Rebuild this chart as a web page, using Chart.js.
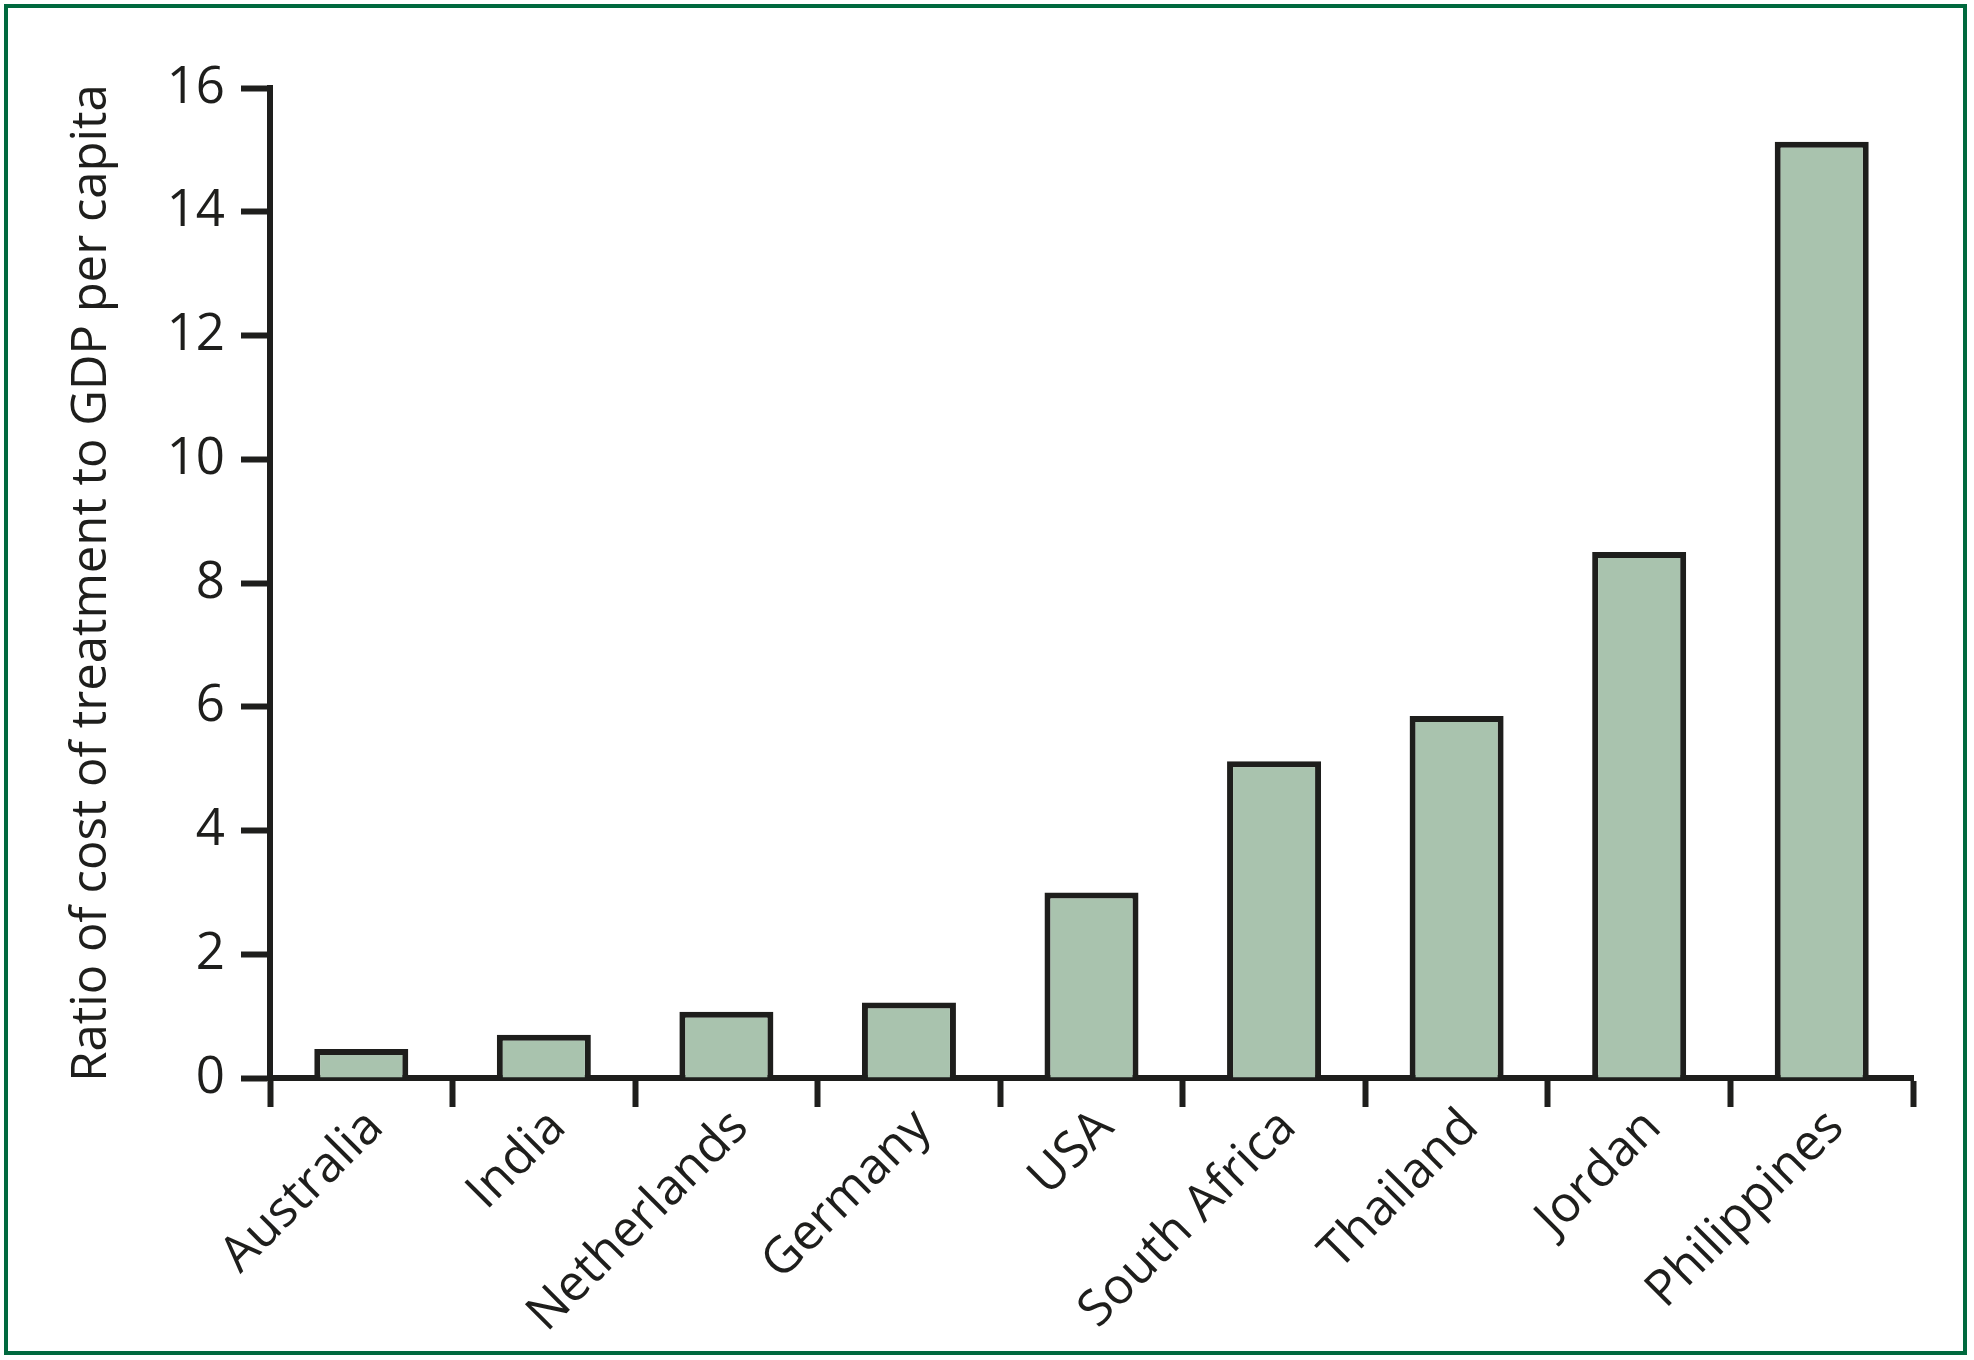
<!DOCTYPE html>
<html>
<head>
<meta charset="utf-8">
<title>Cost of treatment to GDP per capita</title>
<script src="https://cdn.jsdelivr.net/npm/chart.js"></script>
<style>
  html, body { margin: 0; padding: 0; background: #fff; }
  #frame {
    position: absolute; left: 4px; top: 4px;
    width: 1955px; height: 1343px;
    border: 4px solid #00693e;
  }
  #wrap { position: absolute; left: 0; top: 0; width: 1974px; height: 1360px; }
</style>
</head>
<body>
<div id="frame"></div>
<div id="wrap"><canvas id="bar-chart" width="1974" height="1360"></canvas></div>
<script>
// values
const countries = ['Australia', 'India', 'Netherlands', 'Germany', 'USA', 'South Africa', 'Thailand', 'Jordan', 'Philippines'];
const ratios = [0.47, 0.70, 1.07, 1.22, 3.0, 5.12, 5.85, 8.5, 15.13];
const yTicks = [0, 2, 4, 6, 8, 10, 12, 14, 16];
const yTitle = 'Ratio of cost of treatment to GDP per capita';

const ink = '#1e1e1c';
const font = "'Open Sans', 'Noto Sans', sans-serif";

Chart.defaults.animation = false;

const ctx = document.getElementById('bar-chart').getContext('2d');
new Chart(ctx, {
  type: 'bar',
  data: {
    labels: countries,
    datasets: [
      {
        data: ratios,
        backgroundColor: '#a9c3ae',
        borderColor: ink,
        borderWidth: 6,
        borderSkipped: 'start',
        categoryPercentage: 1,
        barPercentage: 0.515,
      },
    ],
  },
  options: {
    responsive: false,
    maintainAspectRatio: false,
    layout: { padding: { top: 88, right: 61, bottom: 0, left: 0 } },
    plugins: { legend: { display: false }, tooltip: { enabled: false } },
    scales: {
      x: {
        offset: true,
        grid: {
          offset: true,
          drawOnChartArea: false,
          drawTicks: true,
          tickLength: 29,
          tickWidth: 6,
          tickColor: ink,
          color: ink,
        },
        border: { display: true, width: 6, color: ink },
        ticks: {
          minRotation: 45,
          maxRotation: 45,
          autoSkip: false,
          padding: -9,
          labelOffset: 14,
          color: ink,
          font: { family: font, size: 50 },
        },
        afterFit: (scale) => { scale.height = 282; },
      },
      y: {
        min: 0,
        max: 16,
        afterBuildTicks: (scale) => { scale.ticks = yTicks.map(v => ({ value: v })); },
        grid: {
          drawOnChartArea: false,
          drawTicks: true,
          tickLength: 29,
          tickWidth: 6,
          tickColor: ink,
          color: ink,
        },
        border: { display: true, width: 6, color: ink },
        ticks: {
          padding: 16,
          color: ink,
          font: { family: font, size: 51 },
        },
        title: {
          display: true,
          text: yTitle,
          color: ink,
          padding: { top: 63, bottom: 0 },
          font: { family: font, size: 49 },
        },
        afterFit: (scale) => { scale.width = 270; },
      },
    },
  },
});
</script>
</body>
</html>
